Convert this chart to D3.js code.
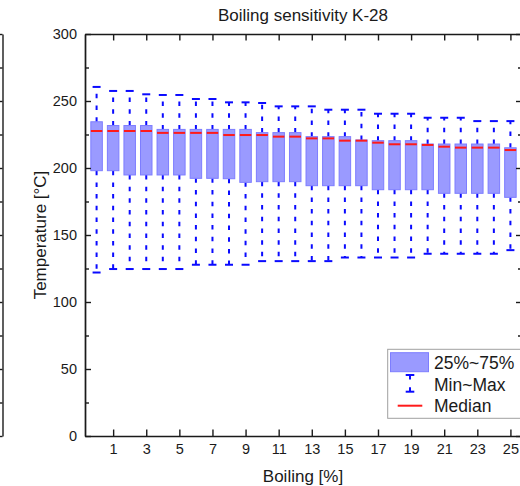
<!DOCTYPE html>
<html>
<head>
<meta charset="utf-8">
<script src="https://cdn.jsdelivr.net/npm/d3@7"></script>
<style>
  body { margin: 0; background: #fff; }
  svg { display: block; font-family: "Liberation Sans", Arial, sans-serif; }
  .axis path, .axis line { stroke: #1a1a1a; stroke-width: 1.4; }
  .axis text { fill: #1a1a1a; font-size: 14.5px; font-family: "Liberation Sans", Arial, sans-serif; }
</style>
</head>
<body>
<svg id="chart" width="520" height="486"></svg>
<script>
// boiling share [%] for each box
const boilingPct = [0, 1, 2, 3, 4, 5, 6, 7, 8, 9, 10, 11, 12, 13, 14, 15, 16, 17, 18, 19, 20, 21, 22, 23, 24, 25];

// temperature statistics [°C]
const maxVals = [260.5, 257.5, 257.5, 255, 254.5, 254.5, 251.5, 251.5, 249, 249, 248.5, 246, 246, 246, 243.5, 243.5, 243.5, 240.5, 240.5, 240.5, 237.5, 237.5, 237.5, 235, 235, 235];
const q3Vals = [234.5, 231.7, 231.7, 231.7, 228.8, 228.8, 228.8, 228.8, 228.8, 228.8, 226.4, 226.4, 226.4, 223.4, 223.4, 223.4, 220.9, 220.4, 220.4, 220.4, 217.9, 217.9, 217.9, 217.9, 217.9, 215.1];
const medianVals = [227.6, 227.6, 227.6, 227.6, 226.2, 226.2, 226.2, 226.2, 224.6, 224.6, 224.6, 223.4, 223.4, 222.1, 222.1, 220.4, 220.4, 218.9, 217.7, 217.7, 217.2, 215.9, 215.2, 215.2, 215.2, 213.4];
const q1Vals = [198, 198, 194.8, 194.8, 194.8, 194.8, 192.3, 192.3, 192, 189.3, 189.8, 189.8, 189.8, 186.8, 186.8, 186.8, 186.8, 183.8, 183.8, 183.8, 183.8, 181.1, 181.1, 181.1, 181.1, 178.1];
const minVals = [122, 124.6, 124.6, 124.6, 124.6, 124.6, 127.8, 127.8, 127.8, 127.8, 130.5, 130.5, 130.5, 130.5, 130.5, 133.2, 133.2, 133.2, 133.2, 133.2, 136, 136, 136, 136, 136, 138.7];

const xTicks = [1, 3, 5, 7, 9, 11, 13, 15, 17, 19, 21, 23, 25];
const yTicks = [0, 50, 100, 150, 200, 250, 300];
const yMinorTicks = [25, 75, 125, 175, 225, 275];

const legendLabels = ["25%~75%", "Min~Max", "Median"];

const BOX_FILL = "#9a9aff";
const BOX_STROKE = "#7d7dff";
const WHISKER = "#0a0aff";
const MEDIAN = "#ff1a1a";

const svg = d3.select("#chart");
const x = d3.scaleLinear().domain([-0.7, 25.7]).range([85, 522]);
const y = d3.scaleLinear().domain([0, 300]).range([436, 34]);

const rows = boilingPct.map((b, i) => ({
  b, max: maxVals[i], q3: q3Vals[i], med: medianVals[i], q1: q1Vals[i], min: minVals[i]
}));

// piece of the neighbouring panel at the left border
const leftEdge = svg.append("g").attr("class", "axis").attr("transform", "translate(2.5,0)");
leftEdge.call(d3.axisRight(y).tickValues(yTicks).tickSize(-6).tickSizeOuter(0).tickFormat(""));
leftEdge.append("g").call(d3.axisRight(y).tickValues(yMinorTicks).tickSize(-4).tickSizeOuter(0).tickFormat(""))
  .select(".domain").remove();

// whiskers
const whisk = svg.append("g");
rows.forEach((d) => {
  const cx = x(d.b);
  whisk.append("line")
    .attr("x1", cx).attr("x2", cx).attr("y1", y(d.q3)).attr("y2", y(d.max))
    .attr("stroke", WHISKER).attr("stroke-width", 2).attr("stroke-dasharray", "4.5,7.2");
  whisk.append("line")
    .attr("x1", cx).attr("x2", cx).attr("y1", y(d.q1)).attr("y2", y(d.min))
    .attr("stroke", WHISKER).attr("stroke-width", 2).attr("stroke-dasharray", "4.5,7.2");
  [d.max, d.min].forEach((v) => {
    whisk.append("line")
      .attr("x1", cx - 4).attr("x2", cx + 4).attr("y1", y(v)).attr("y2", y(v))
      .attr("stroke", WHISKER).attr("stroke-width", 2);
  });
});

// boxes
svg.append("g").selectAll("rect")
  .data(rows)
  .enter()
  .append("rect")
  .attr("x", (d) => x(d.b) - 5.75)
  .attr("width", 11.5)
  .attr("y", (d) => y(d.q3))
  .attr("height", (d) => y(d.q1) - y(d.q3))
  .attr("fill", BOX_FILL)
  .attr("stroke", BOX_STROKE)
  .attr("stroke-width", 1);

// medians
svg.append("g").selectAll("line")
  .data(rows)
  .enter()
  .append("line")
  .attr("x1", (d) => x(d.b) - 5.75)
  .attr("x2", (d) => x(d.b) + 5.75)
  .attr("y1", (d) => y(d.med))
  .attr("y2", (d) => y(d.med))
  .attr("stroke", MEDIAN)
  .attr("stroke-width", 2);

// axes, ticks pointing inward
const gx = svg.append("g").attr("class", "axis").attr("transform", "translate(0,436)")
  .call(d3.axisBottom(x).tickValues(xTicks).tickSize(-6.5).tickSizeOuter(0).tickPadding(8).tickFormat(d3.format("d")));
svg.append("g").attr("class", "axis").attr("transform", "translate(0,34)")
  .call(d3.axisTop(x).tickValues(xTicks).tickSize(-6.5).tickSizeOuter(0).tickFormat(""));

svg.append("g").attr("class", "axis").attr("transform", "translate(85,0)")
  .call(d3.axisLeft(y).tickValues(yTicks).tickSize(-6).tickSizeOuter(0).tickPadding(8).tickFormat(d3.format("d")));
svg.append("g").attr("class", "axis").attr("transform", "translate(85,0)")
  .call(d3.axisLeft(y).tickValues(yMinorTicks).tickSize(-4).tickSizeOuter(0).tickFormat(""));
svg.append("g").attr("class", "axis").attr("transform", "translate(522,0)")
  .call(d3.axisRight(y).tickValues(yTicks).tickSize(-6).tickSizeOuter(0).tickFormat(""));
svg.append("g").attr("class", "axis").attr("transform", "translate(522,0)")
  .call(d3.axisRight(y).tickValues(yMinorTicks).tickSize(-4).tickSizeOuter(0).tickFormat(""));

// title and axis labels
svg.append("text")
  .attr("x", 303).attr("y", 20.7)
  .attr("text-anchor", "middle")
  .attr("font-size", 17).attr("fill", "#1a1a1a")
  .text("Boiling sensitivity K-28");

svg.append("text")
  .attr("x", 303).attr("y", 481.5)
  .attr("text-anchor", "middle")
  .attr("font-size", 17).attr("fill", "#1a1a1a")
  .text("Boiling [%]");

svg.append("text")
  .attr("transform", "translate(45.5,235) rotate(-90)")
  .attr("text-anchor", "middle")
  .attr("font-size", 17).attr("fill", "#1a1a1a")
  .text("Temperature [°C]");

// legend
const lg = svg.append("g");
lg.append("rect")
  .attr("x", 387.7).attr("y", 349.3).attr("width", 150).attr("height", 69)
  .attr("fill", "#fff").attr("stroke", "#a0a0a0").attr("stroke-width", 1);
lg.append("rect")
  .attr("x", 390.5).attr("y", 352.7).attr("width", 38).attr("height", 19)
  .attr("fill", BOX_FILL).attr("stroke", BOX_STROKE).attr("stroke-width", 1);
[[375, 379.5], [391.7, 387.2]].forEach(([cy, ey]) => {
  lg.append("line").attr("x1", 405.7).attr("x2", 414.3).attr("y1", cy).attr("y2", cy)
    .attr("stroke", WHISKER).attr("stroke-width", 2);
  lg.append("line").attr("x1", 410).attr("x2", 410).attr("y1", cy).attr("y2", ey)
    .attr("stroke", WHISKER).attr("stroke-width", 2);
});
lg.append("line").attr("x1", 397.7).attr("x2", 422.3).attr("y1", 405.7).attr("y2", 405.7)
  .attr("stroke", MEDIAN).attr("stroke-width", 2);
lg.selectAll("text.lbl")
  .data(legendLabels)
  .enter()
  .append("text")
  .attr("class", "lbl")
  .attr("x", 434)
  .attr("y", (d, i) => 369.3 + i * 21.2)
  .attr("font-size", 17.5).attr("fill", "#1a1a1a")
  .text((d) => d);
</script>
</body>
</html>
